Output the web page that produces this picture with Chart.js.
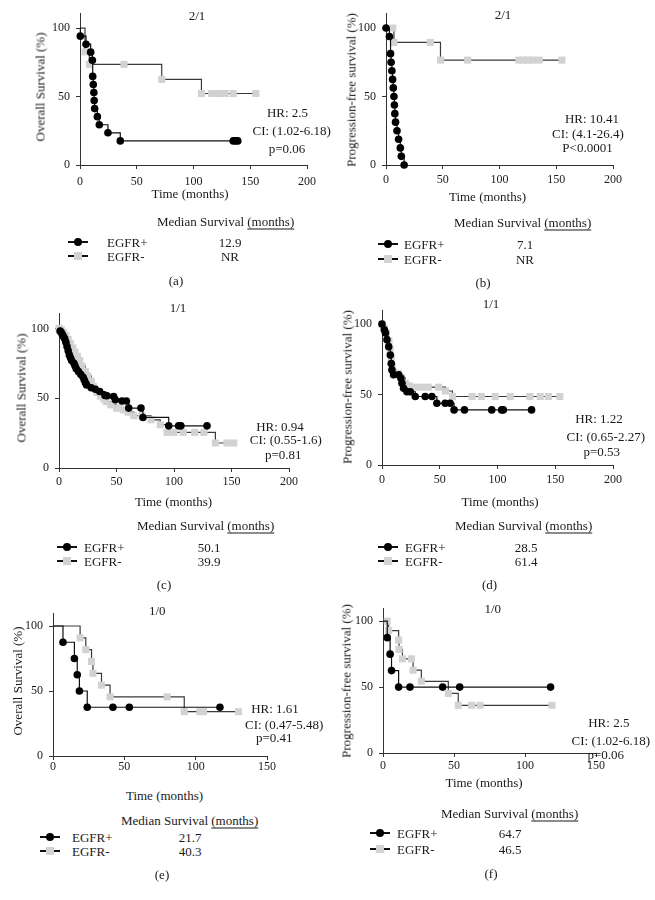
<!DOCTYPE html>
<html>
<head>
<meta charset="utf-8">
<script src="https://cdn.jsdelivr.net/npm/chart.js@4.4.1/dist/chart.umd.min.js"></script>
<style>
body { margin: 0; background: #fff; }
#page { position: relative; width: 655px; height: 900px; overflow: hidden;
  font-family: "Liberation Serif", "DejaVu Serif", serif; font-size: 13px; color: #1a1a1a; }
#page canvas { position: absolute; }
.c { position: absolute; transform: translate(-50%, -50%); white-space: nowrap; line-height: 15px; }
.l { position: absolute; transform: translate(0, -50%); white-space: nowrap; line-height: 15px; }
.y { position: absolute; transform: translate(-50%, -50%) rotate(-90deg); white-space: nowrap; line-height: 15px; }
.u { text-decoration: underline; text-decoration-thickness: 1.3px; text-underline-offset: 3px; }
.ln { position: absolute; width: 20px; height: 0; border-top: 2px solid #111; transform: translate(-50%, -50%); }
.dot { position: absolute; width: 8px; height: 8px; border-radius: 50%; background: #000; transform: translate(-50%, -50%); }
.sq { position: absolute; width: 8px; height: 8px; background: #d2d2d2; transform: translate(-50%, -50%); }
</style>
</head>
<body>
<div id="page"></div>
<script>
// ticks
const yTicks = [0, 50, 100];
const xTicks200 = [0, 50, 100, 150, 200];
const xTicks150 = [0, 50, 100, 150];

// (a) overall survival, 2/1
const aPosT = [0, 0.3, 5.3, 9.4, 10.9, 11.2, 11.7, 12.2, 12.5, 12.9, 15.3, 17, 24.6, 35.5, 135, 137, 139];
const aPosS = [100, 94.1, 88.2, 82.4, 76.5, 64.7, 58.8, 52.9, 47.1, 41.2, 35.3, 29.4, 23.5, 17.6, 17.6, 17.6, 17.6];
const aNegT = [0, 4.4, 8.2, 38.8, 72, 107, 116, 120, 124, 128, 135, 155];
const aNegS = [100, 82.6, 73.5, 73.5, 62.5, 52.2, 52.2, 52.2, 52.2, 52.2, 52.2, 52.2];

// (b) progression-free survival, 2/1
const bPosT = [0, 3, 4, 4.5, 5.2, 5.8, 6.4, 7, 7.4, 7.8, 8.4, 9.7, 11.1, 12.6, 13.5, 16];
const bPosS = [100, 93.8, 81.3, 75, 68.8, 62.5, 56.3, 50, 43.8, 37.5, 31.3, 25, 18.8, 12.5, 6.3, 0];
const bNegT = [0, 6, 7, 39, 48, 72, 117, 121, 125, 129, 135, 155];
const bNegS = [100, 100, 89.5, 89.5, 76.6, 76.6, 76.6, 76.6, 76.6, 76.6, 76.6, 76.6];

// (c) overall survival, 1/1
const cPosT = [0, 1, 2, 3, 4, 5, 6, 7, 8, 9, 10, 11, 13, 14, 15, 17, 19, 21, 22, 23, 24, 28, 31.6, 35.4, 40, 41.7, 47.5, 49, 54.8, 58.6, 60.6, 71.3, 73, 95.4, 104, 106, 128.7];
const cPosS = [100, 98, 97, 95.5, 94, 92.5, 90, 87, 84, 81, 79, 77, 75, 73, 71, 69, 67, 65, 63, 61, 59.5, 57.5, 56.4, 54.8, 52, 51.7, 51.2, 48.8, 48, 48, 42.9, 42.9, 36.2, 30.2, 30.2, 30.2, 30.2];
const cNegT = [0, 2, 4, 6, 8, 10, 12, 14, 16, 18, 20, 23, 25, 28, 30, 33, 36, 39, 41, 45, 50, 53, 56, 60, 65, 72, 80, 88, 94, 100, 108, 118, 126, 136, 146, 152];
const cNegS = [100, 99, 97, 95, 92, 89, 86, 83, 80, 77, 73, 69, 66, 62, 58.3, 54, 51.5, 49.5, 47.6, 45.2, 42.9, 42.9, 41.7, 40, 37.4, 37.4, 34.5, 31, 25.5, 25.5, 25.5, 25.5, 25.5, 17.9, 17.9, 17.9];

// (d) progression-free survival, 1/1
const dPosT = [0, 2, 3, 4.3, 5.8, 7.2, 8, 8.6, 10, 14.4, 16.4, 17.3, 18.7, 21.6, 24.5, 28.8, 37.4, 43.2, 47.5, 54.7, 59, 62.4, 71.4, 95, 103.6, 105, 129.5];
const dPosS = [100, 96, 93.6, 88.9, 84, 78, 72, 67.5, 64, 64, 61.6, 58, 54.5, 52, 52, 48.6, 48.6, 48.6, 43.8, 43.8, 43.8, 39.1, 39.1, 39.1, 39.1, 39.1, 39.1];
const dNegT = [0, 2, 4, 6, 7, 8, 9, 10, 14, 17, 20, 24, 29, 35, 40, 49, 55, 61, 78, 86, 98, 111, 128, 137, 144, 154];
const dNegS = [100, 97, 94, 88, 82, 76, 70, 66, 65, 62, 58, 56, 55.2, 55.2, 55.2, 55.2, 52.5, 48.6, 48.6, 48.6, 48.6, 48.6, 48.6, 48.6, 48.6, 48.6];

// (e) overall survival, 1/0
const ePosT = [0, 7, 15, 17, 18.5, 24, 42, 53.5, 117];
const ePosS = [100, 87.5, 75, 62.5, 50, 37.5, 37.5, 37.5, 37.5];
const eNegT = [0, 19, 23, 27, 28, 34, 40, 80, 92, 103, 105.5, 130];
const eNegS = [100, 90.9, 81.8, 72.7, 63.6, 54.5, 45.5, 45.5, 34.1, 34.1, 34.1, 34.1];

// (f) progression-free survival, 1/0
const fPosT = [0, 3, 5, 6, 11, 19, 42, 54, 118];
const fPosS = [100, 87.5, 75, 62.5, 50, 50, 50, 50, 50];
const fNegT = [0, 3, 4, 11, 11.3, 13.7, 20, 21.2, 27, 46, 53, 62.4, 68.3, 119];
const fNegS = [100, 100, 92.9, 85.7, 78.6, 71.4, 71.4, 62.8, 54.4, 45.2, 36.2, 36.2, 36.2, 36.2];

// texts
const groups = ["EGFR+", "EGFR-"];
const panelTags = ["(a)", "(b)", "(c)", "(d)", "(e)", "(f)"];
const panelTitles = ["2/1", "2/1", "1/1", "1/1", "1/0", "1/0"];
const osTitle = "Overall Survival (%)";
const pfsTitle = "Progression-free survival (%)";
const medianPos = ["12.9", "7.1", "50.1", "28.5", "21.7", "64.7"];
const medianNeg = ["NR", "NR", "39.9", "61.4", "40.3", "46.5"];
const statLines = [
  ["HR: 2.5", "CI: (1.02-6.18)", "p=0.06"],
  ["HR: 10.41", "CI: (4.1-26.4)", "P<0.0001"],
  ["HR: 0.94", "CI: (0.55-1.6)", "p=0.81"],
  ["HR: 1.22", "CI: (0.65-2.27)", "p=0.53"],
  ["HR: 1.61", "CI: (0.47-5.48)", "p=0.41"],
  ["HR: 2.5", "CI: (1.02-6.18)", "p=0.06"]
];

const panels = [
  { pos: [aPosT, aPosS], neg: [aNegT, aNegS], first: [false, false], xTicks: xTicks200, yMax: 111, yTitle: osTitle,
    box: { l: 80, t: 13, r: 307, b: 165 }, xPad: 6,
    title: [197, 15], yt: [40, 87], xt: [190, 193], stats: [[287.5, 112], [291.7, 130], [287, 148]],
    head: [157, 221], rows: [242, 256], mark: 78, label: 107, value: 230, tag: [176, 280] },
  { pos: [bPosT, bPosS], neg: [bNegT, bNegS], first: [true, false], xTicks: xTicks200, yMax: 111, yTitle: pfsTitle,
    box: { l: 386, t: 13, r: 613, b: 165 }, xPad: 4,
    title: [503, 14], yt: [350.7, 90], xt: [487.5, 195.5], stats: [[592, 118.3], [588, 132.7], [587.5, 146.7]],
    head: [454, 222], rows: [244, 259], mark: 388, label: 404, value: 525, tag: [483, 282] },
  { pos: [cPosT, cPosS], neg: [cNegT, cNegS], first: [false, true], xTicks: xTicks200, yMax: 111, yTitle: osTitle,
    box: { l: 59, t: 313, r: 289, b: 468 }, xPad: 3,
    title: [178, 306.7], yt: [20.7, 388], xt: [173.5, 501], stats: [[280, 426], [285.8, 439.3], [283.3, 454]],
    head: [137, 525], rows: [547, 561], mark: 67, label: 84, value: 209, tag: [164, 584] },
  { pos: [dPosT, dPosS], neg: [dNegT, dNegS], first: [true, true], xTicks: xTicks200, yMax: 110, yTitle: pfsTitle,
    box: { l: 382, t: 310, r: 613, b: 465 }, xPad: 4,
    title: [491, 303.3], yt: [347.3, 386.7], xt: [500, 501], stats: [[599, 418.3], [605.8, 435.7], [601.7, 451]],
    head: [455, 525], rows: [547, 561], mark: 387.5, label: 405, value: 526, tag: [489.5, 584] },
  { pos: [ePosT, ePosS], neg: [eNegT, eNegS], first: [false, false], xTicks: xTicks150, yMax: 110, yTitle: osTitle,
    box: { l: 53, t: 613, r: 267, b: 756 }, xPad: 0,
    title: [157.3, 610], yt: [16.7, 681], xt: [164.5, 795], stats: [[275, 708.3], [284.2, 724.3], [274.2, 737.3]],
    head: [121, 820], rows: [837, 851], mark: 50, label: 72, value: 190, tag: [162, 874] },
  { pos: [fPosT, fPosS], neg: [fNegT, fNegS], first: [false, false], xTicks: xTicks150, yMax: 110, yTitle: pfsTitle,
    box: { l: 383, t: 608, r: 596, b: 753 }, xPad: 2,
    title: [492.7, 608.3], yt: [346, 681], xt: [484, 782], stats: [[608.8, 721.7], [610.8, 740], [605.8, 754.3]],
    head: [441, 813], rows: [833, 849], mark: 380, label: 397, value: 510, tag: [491, 873] }
];

const page = document.getElementById("page");
const YW = 40, PT = 14, PR = 18, XH = 24;
const tickFont = { family: "Liberation Serif", size: 12 };

function put(cls, text, x, y) {
  const d = document.createElement("div");
  d.className = cls;
  d.textContent = text;
  d.style.left = x + "px";
  d.style.top = y + "px";
  page.appendChild(d);
  return d;
}

function kmSet(tArr, sArr, label, black, first) {
  return {
    label: label,
    data: tArr.map((t, i) => ({ x: t, y: sArr[i] })),
    stepped: true,
    clip: false,
    borderColor: black ? "#111" : "#3a3a3a",
    borderWidth: 1.2,
    pointStyle: black ? "circle" : "rect",
    pointRadius: c => (c.dataIndex === 0 && !first) ? 0 : (black ? 3.8 : 5),
    pointBackgroundColor: black ? "#000" : "#d2d2d2",
    pointBorderWidth: 0
  };
}

panels.forEach((p, k) => {
  const bx = p.box;
  const cv = document.createElement("canvas");
  const w = bx.r - bx.l + YW + PR, h = bx.b - bx.t + PT + XH;
  cv.width = w; cv.height = h;
  cv.style.left = (bx.l - YW) + "px";
  cv.style.top = (bx.t - PT) + "px";
  cv.style.width = w + "px";
  cv.style.height = h + "px";
  page.appendChild(cv);

  new Chart(cv, {
    type: "line",
    data: {
      datasets: [
        kmSet(p.pos[0], p.pos[1], groups[0], true, p.first[0]),
        kmSet(p.neg[0], p.neg[1], groups[1], false, p.first[1])
      ]
    },
    options: {
      responsive: false,
      devicePixelRatio: 1,
      animation: false,
      events: [],
      layout: { padding: { top: PT, right: PR, left: 0, bottom: 0 } },
      plugins: { legend: { display: false }, tooltip: { enabled: false } },
      scales: {
        x: {
          type: "linear", min: 0, max: p.xTicks[p.xTicks.length - 1],
          afterBuildTicks: s => { s.ticks = p.xTicks.map(v => ({ value: v })); },
          afterFit: s => { s.height = XH; },
          border: { display: true, color: "#333", width: 1 },
          grid: { drawOnChartArea: false, drawTicks: true, tickLength: 4, color: "#333" },
          ticks: { font: tickFont, color: "#1a1a1a", padding: p.xPad, maxRotation: 0 }
        },
        y: {
          type: "linear", min: 0, max: p.yMax,
          afterBuildTicks: s => { s.ticks = yTicks.map(v => ({ value: v })); },
          afterFit: s => { s.width = YW; },
          border: { display: true, color: "#333", width: 1 },
          grid: { drawOnChartArea: false, drawTicks: true, tickLength: 4, color: "#333" },
          ticks: { font: tickFont, color: "#1a1a1a", padding: 6 }
        }
      }
    }
  });

  // titles and notes
  put("c", panelTitles[k], p.title[0], p.title[1]);
  put("y", p.yTitle, p.yt[0], p.yt[1]);
  put("c", "Time (months)", p.xt[0], p.xt[1]);
  statLines[k].forEach((s, i) => put("c", s, p.stats[i][0], p.stats[i][1]));

  // median survival table
  const hd = document.createElement("div");
  hd.className = "l";
  hd.style.left = p.head[0] + "px";
  hd.style.top = p.head[1] + "px";
  hd.innerHTML = 'Median Survival <span class="u">(months)</span>';
  page.appendChild(hd);

  [0, 1].forEach(g => {
    const y = p.rows[g];
    put("ln", "", p.mark, y);
    put(g === 0 ? "dot" : "sq", "", p.mark, y);
    put("l", groups[g], p.label, y);
    put("c", g === 0 ? medianPos[k] : medianNeg[k], p.value, y);
  });
  put("c", panelTags[k], p.tag[0], p.tag[1]);
});
</script>
</body>
</html>
